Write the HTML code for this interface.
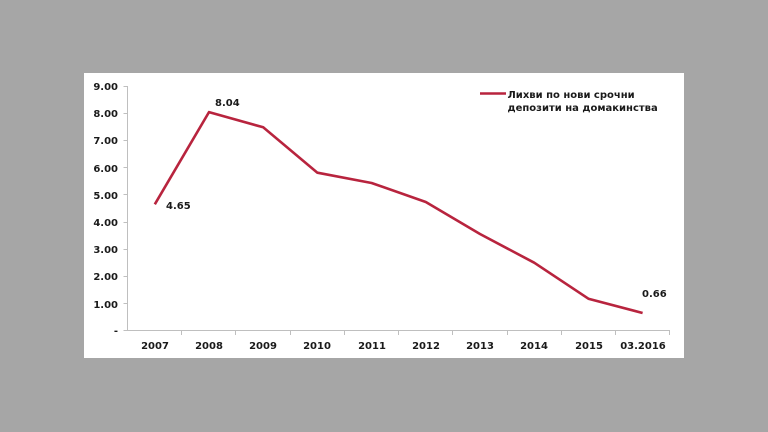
<!DOCTYPE html>
<html><head><meta charset="utf-8">
<style>
html,body{margin:0;padding:0;background:#a6a6a6;width:768px;height:432px;overflow:hidden}
svg{display:block}
text{font-family:"DejaVu Sans","Liberation Sans",sans-serif;font-weight:bold;font-size:10px;fill:#1a1a1a}
</style></head>
<body>
<svg width="768" height="432" viewBox="0 0 768 432" xmlns="http://www.w3.org/2000/svg">
<rect x="0" y="0" width="768" height="432" fill="#a6a6a6"/>
<rect x="84" y="73" width="600" height="285" fill="#ffffff"/>
<!-- axes -->
<g stroke="#bfbfbf" stroke-width="1" fill="none">
<line x1="127.5" y1="86" x2="127.5" y2="331"/>
<line x1="127.5" y1="330.5" x2="670" y2="330.5"/>
<line x1="123.5" y1="86.5" x2="127.5" y2="86.5"/>
<line x1="123.5" y1="113.5" x2="127.5" y2="113.5"/>
<line x1="123.5" y1="140.5" x2="127.5" y2="140.5"/>
<line x1="123.5" y1="167.5" x2="127.5" y2="167.5"/>
<line x1="123.5" y1="194.5" x2="127.5" y2="194.5"/>
<line x1="123.5" y1="222.5" x2="127.5" y2="222.5"/>
<line x1="123.5" y1="249.5" x2="127.5" y2="249.5"/>
<line x1="123.5" y1="276.5" x2="127.5" y2="276.5"/>
<line x1="123.5" y1="303.5" x2="127.5" y2="303.5"/>
<line x1="123.5" y1="330.5" x2="127.5" y2="330.5"/>
<line x1="181.5" y1="330.5" x2="181.5" y2="335"/>
<line x1="235.5" y1="330.5" x2="235.5" y2="335"/>
<line x1="290.5" y1="330.5" x2="290.5" y2="335"/>
<line x1="344.5" y1="330.5" x2="344.5" y2="335"/>
<line x1="398.5" y1="330.5" x2="398.5" y2="335"/>
<line x1="452.5" y1="330.5" x2="452.5" y2="335"/>
<line x1="507.5" y1="330.5" x2="507.5" y2="335"/>
<line x1="561.5" y1="330.5" x2="561.5" y2="335"/>
<line x1="615.5" y1="330.5" x2="615.5" y2="335"/>
<line x1="669.5" y1="330.5" x2="669.5" y2="335"/>
</g>
<!-- y labels -->
<g text-anchor="end">
<text x="118" y="90">9.00</text>
<text x="118" y="117">8.00</text>
<text x="118" y="144">7.00</text>
<text x="118" y="172">6.00</text>
<text x="118" y="199">5.00</text>
<text x="118" y="226">4.00</text>
<text x="118" y="253">3.00</text>
<text x="118" y="280">2.00</text>
<text x="118" y="308">1.00</text>
<text x="118" y="334">-</text>
</g>
<!-- x labels -->
<g text-anchor="middle">
<text x="155" y="349">2007</text>
<text x="209" y="349">2008</text>
<text x="263" y="349">2009</text>
<text x="317" y="349">2010</text>
<text x="372" y="349">2011</text>
<text x="426" y="349">2012</text>
<text x="480" y="349">2013</text>
<text x="534" y="349">2014</text>
<text x="589" y="349">2015</text>
<text x="643" y="349">03.2016</text>
</g>
<!-- series -->
<polyline fill="none" stroke="#b8243e" stroke-width="2.6" stroke-linejoin="round"
points="154.8,204.3 209,112.1 263.2,127.3 317.4,172.7 371.6,183 425.8,202 480,234 534.2,262.7 588.4,298.7 642.6,313"/>
<!-- data labels -->
<text x="166" y="209">4.65</text>
<text x="215" y="106">8.04</text>
<text x="642" y="297">0.66</text>
<!-- legend -->
<line x1="480" y1="93.5" x2="506" y2="93.5" stroke="#b8243e" stroke-width="2.6"/>
<text x="507.5" y="98">Лихви по нови срочни</text>
<text x="507.5" y="111">депозити на домакинства</text>
</svg>
</body></html>
